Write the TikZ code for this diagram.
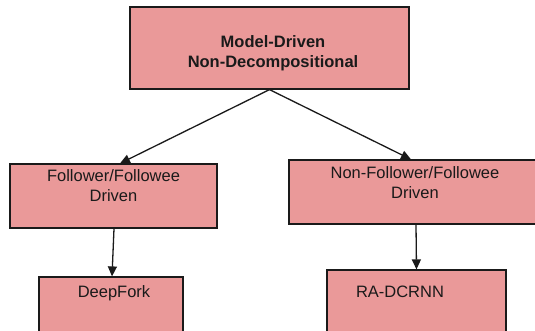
\documentclass[tikz,border=0pt]{standalone}
\usepackage{fontspec}
\setmainfont{Liberation Sans}
\usetikzlibrary{arrows.meta}
\definecolor{boxfill}{HTML}{EA9999}
\definecolor{ink}{HTML}{1A1A1A}
\tikzset{
  box/.style={draw=ink, line width=1.2pt, fill=boxfill, rectangle, inner sep=0pt},
  lbl/.style={text=ink, align=center, inner sep=0pt, font=\fontsize{16.5}{20}\selectfont},
  conn/.style={draw=ink, line width=1.3pt, -{Triangle[length=10pt,width=9pt]}}
}
\begin{document}
\begin{tikzpicture}[x=1pt,y=-1pt]
\useasboundingbox (0,0) rectangle (535,330);
\clip (0,0) rectangle (535,330);
\node[box, minimum width=279pt, minimum height=82pt] (top) at (269.5,48) {};
\node[box, minimum width=207pt, minimum height=64pt] (l1) at (113.5,196) {};
\node[box, minimum width=252pt, minimum height=64pt] (r1) at (415,192) {};
\node[box, minimum width=144pt, minimum height=70pt] (l2) at (111,312) {};
\node[box, minimum width=179pt, minimum height=76pt] (r2) at (416.5,308) {};
\node[lbl, font=\fontsize{16.5}{20}\selectfont\bfseries] (ttop) at (273,53) {Model-Driven\\Non-Decompositional};
\node[lbl] (tl1) at (113.5,186) {Follower/Followee\\Driven};
\node[lbl] (tr1) at (415,182.5) {Non-Follower/Followee\\Driven};
\node[lbl] (tl2) at (114,293) {DeepFork};
\node[lbl] (tr2) at (400,292) {RA-DCRNN};
\draw[conn] (top.south) -- ([xshift=6.5pt]l1.north);
\draw[conn] (top.south) -- ([xshift=-4pt]r1.north);
\draw[conn] ([xshift=0.5pt]l1.south) -- ([xshift=1pt]l2.north);
\draw[conn] ([xshift=1pt]r1.south) -- (r2.north);
\end{tikzpicture}
\end{document}
